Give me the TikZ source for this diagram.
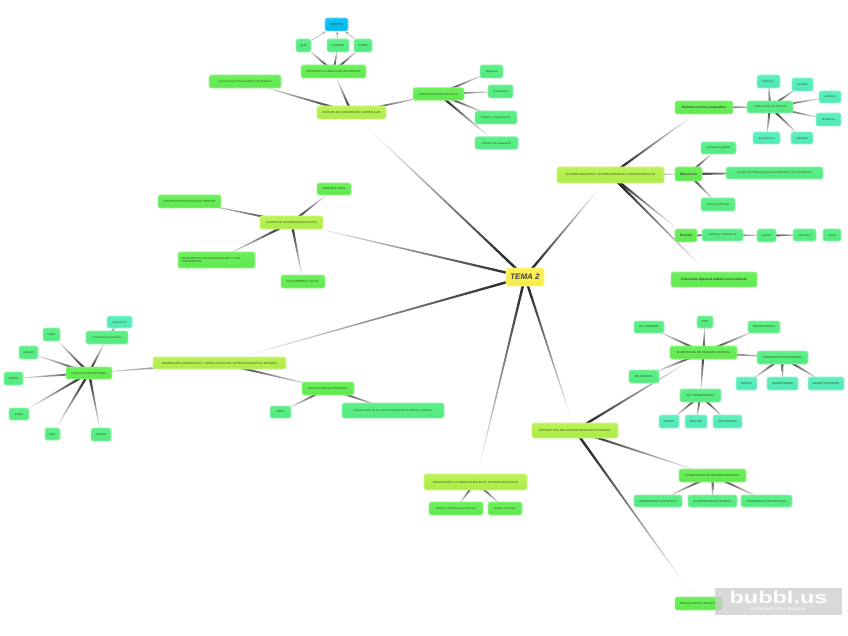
\documentclass[tikz,border=0pt]{standalone}
\usepackage{fontspec}
\setmainfont{Liberation Sans}
\usetikzlibrary{backgrounds,calc}

\definecolor{tinta}{HTML}{2F5A1E}
\tikzset{
  burbuja/.style={rounded corners=2.2pt, inner sep=0pt, line width=0.7pt, text=tinta, align=center,
    font=\fontsize{2.9}{3.5}\selectfont},
  raiz/.style={burbuja, draw={rgb,255:red,255;green,247;blue,154}, top color={rgb,255:red,255;green,242;blue,90}, bottom color={rgb,255:red,242;green,234;blue,74},
    text=black!75, font=\fontsize{8}{9}\selectfont\bfseries\itshape},
  tronco/.style={burbuja, draw={rgb,255:red,210;green,247;blue,140}, top color={rgb,255:red,189;green,242;blue,88}, bottom color={rgb,255:red,171;green,235;blue,72}},
  rama/.style={burbuja, draw={rgb,255:red,160;green,245;blue,144}, top color={rgb,255:red,108;green,240;blue,92}, bottom color={rgb,255:red,96;green,232;blue,80}},
  ramanegra/.style={rama, text=black!75, font=\fontsize{3.3}{4}\selectfont\bfseries},
  hoja/.style={burbuja, draw={rgb,255:red,154;green,245;blue,181}, top color={rgb,255:red,94;green,240;blue,138}, bottom color={rgb,255:red,82;green,234;blue,126}},
  brote/.style={burbuja, draw={rgb,255:red,154;green,245;blue,216}, top color={rgb,255:red,92;green,240;blue,190}, bottom color={rgb,255:red,80;green,232;blue,180}},
  cielo/.style={burbuja, draw={rgb,255:red,112;green,220;blue,252}, top color={rgb,255:red,20;green,196;blue,248}, bottom color={rgb,255:red,0;green,180;blue,240}},
  flecha/.style={draw=black!35, line width=0.5pt, -stealth, shorten >=0.3pt},
}

\begin{document}
\begin{tikzpicture}[x=1pt,y=-1pt]
\def\rama#1#2{
  \pgfmathanglebetweenpoints{\pgfpointanchor{#1}{center}}{\pgfpointanchor{#2}{center}}
  \let\angulo\pgfmathresult
  \pgfmathsetmacro\giro{\angulo-90}
  \path[bottom color=black!82, middle color=black!68, top color=black!3, shading angle=\giro]
    ($(#1)+(\angulo+90:1.3pt)$) -- ($(#2)+(\angulo+90:0.3pt)$) -- ($(#2)+(\angulo-90:0.3pt)$) -- ($(#1)+(\angulo-90:1.3pt)$) -- cycle;
}

\useasboundingbox (0,0) rectangle (848,636);

\node[raiz, minimum width=38pt, minimum height=18pt] (tema) at (525,277) {TEMA 2};


\node[tronco, minimum width=69pt, minimum height=13pt] (niveles) at (351.5,112.5) {NIVELES DE CONCRECIÓN CURRICULAR};
\node[rama, minimum width=65pt, minimum height=13pt] (proyecto) at (333.5,71.5) {PROYECTO CURRICULAR DE CENTRO};
\node[cielo, minimum width=23pt, minimum height=13pt] (equipos) at (336.5,24.5) {EQUIPOS};
\node[hoja, minimum width=15pt, minimum height=13pt] (que) at (303.5,45.5) {QUÉ};
\node[hoja, minimum width=22pt, minimum height=13pt] (cuando) at (338,45.5) {CUÁNDO};
\node[hoja, minimum width=18pt, minimum height=13pt] (como) at (363,45.5) {CÓMO};
\node[rama, minimum width=72pt, minimum height=13pt] (curriculo) at (245,81.5) {Currículo de Primaria, ESO y Bachillerato};
\node[rama, minimum width=51pt, minimum height=12.5pt] (programacion) at (438.5,94) {PROGRAMACIÓN DEL AULA};
\node[hoja, minimum width=23pt, minimum height=13pt] (objetivos) at (491.5,71.5) {Objetivos};
\node[hoja, minimum width=25pt, minimum height=13pt] (contenidos) at (500.5,91.5) {Contenidos};
\node[hoja, minimum width=42pt, minimum height=13pt] (diseno) at (496,117.5) {Diseño y organización};
\node[hoja, minimum width=43pt, minimum height=12.5pt] (criterios) at (496.5,143) {Criterios de evaluación};


\node[tronco, minimum width=107pt, minimum height=16pt] (sistema) at (610.5,175) {SISTEMA EDUCATIVO, SISTEMA ESCOLAR Y CENTRO ESCOLAR};
\node[ramanegra, minimum width=58pt, minimum height=13pt] (escolar) at (704,107.5) {Sistema escolar y educativo};
\node[hoja, minimum width=46pt, minimum height=12pt] (condicionado) at (770,107) {condicionado por factores};
\node[brote, minimum width=23pt, minimum height=13pt] (historicos) at (768.5,81.5) {históricos};
\node[brote, minimum width=21pt, minimum height=13pt] (sociales) at (802.5,84.5) {sociales};
\node[brote, minimum width=22pt, minimum height=12pt] (politicos) at (830,97) {políticos};
\node[brote, minimum width=25pt, minimum height=13pt] (filosoficos) at (828.5,119.5) {filosóficos};
\node[brote, minimum width=27pt, minimum height=12pt] (economicos) at (766.5,138) {económicos};
\node[brote, minimum width=22pt, minimum height=12pt] (culturales) at (802,138) {culturales};
\node[hoja, minimum width=35pt, minimum height=12pt] (perspectiva) at (718.5,148) {perspectiva global};
\node[ramanegra, minimum width=27pt, minimum height=14pt] (educacion) at (688.5,174) {Educación};
\node[hoja, minimum width=97pt, minimum height=12pt] (proceso) at (774.5,173) {proceso de influencias para el desarrollo y la socialización};
\node[hoja, minimum width=34pt, minimum height=13pt] (formal) at (718,204.5) {formal e informal};
\node[ramanegra, minimum width=22pt, minimum height=13pt] (escuela) at (686,235.5) {Escuela};
\node[hoja, minimum width=41pt, minimum height=12pt] (subsistema) at (722.5,235) {sistema y subsistema};
\node[hoja, minimum width=19pt, minimum height=13pt] (nivescolar) at (766.5,235.5) {escolar};
\node[hoja, minimum width=23pt, minimum height=12pt] (educativo) at (804.5,235) {educativo};
\node[hoja, minimum width=18pt, minimum height=12pt] (social) at (832,235) {social};
\node[ramanegra, minimum width=86pt, minimum height=15pt] (ligada) at (714,279.5) {Educación ligada al ámbito socio-cultural};


\node[tronco, minimum width=63pt, minimum height=13pt] (planes) at (291.5,222.5) {PLANES DE CENTROS EDUCATIVOS};
\node[rama, minimum width=34pt, minimum height=12pt] (memoria) at (334,189) {MEMORIA FINAL};
\node[rama, minimum width=63pt, minimum height=13pt] (pec) at (189.5,201.5) {PROYECTO EDUCATIVO DE CENTRO};
\node[rama, minimum width=77pt, minimum height=16pt, text width=70pt, align=left] (reglamento) at (216.5,260) {REGLAMENTO DE ORGANIZACIÓN Y FUNCIONAMIENTO};
\node[rama, minimum width=44pt, minimum height=13pt] (pga) at (303,281.5) {PLAN GENERAL ANUAL};


\node[tronco, minimum width=133pt, minimum height=12pt] (referentes) at (219.5,363) {REFERENTES NORMATIVOS Y LEGISLATIVOS DEL SISTEMA EDUCATIVO ESPAÑOL};
\node[rama, minimum width=46pt, minimum height=12pt] (nacional) at (89,373) {LEGISLACIÓN NACIONAL};
\node[hoja, minimum width=42pt, minimum height=13pt] (constitucion) at (107,337.5) {Constitución española};
\node[brote, minimum width=25pt, minimum height=12pt] (articulo) at (119.5,322) {Artículo 27};
\node[hoja, minimum width=17pt, minimum height=13pt] (lode) at (51.5,334.5) {LODE};
\node[hoja, minimum width=19pt, minimum height=13pt] (logse) at (28.5,352.5) {LOGSE};
\node[hoja, minimum width=19pt, minimum height=13pt] (lopeg) at (13.5,378.5) {LOPEG};
\node[hoja, minimum width=20pt, minimum height=12pt] (loce) at (19,414) {LOCE};
\node[hoja, minimum width=15pt, minimum height=12pt] (loe) at (52.5,434) {LOE};
\node[hoja, minimum width=20pt, minimum height=13pt] (lomce) at (101,434.5) {LOMCE};
\node[rama, minimum width=52pt, minimum height=13pt] (autonomica) at (328,388.5) {LEGISLACIÓN AUTONÓMICA};
\node[hoja, minimum width=21pt, minimum height=12pt] (leex) at (280.5,412) {LEEX};
\node[hoja, minimum width=102pt, minimum height=15pt] (organizacion) at (393,410.5) {Organización de los centros de Educación Infantil y Primaria};


\node[tronco, minimum width=103pt, minimum height=16pt] (planificacion) at (475.5,482) {LEGISLACIÓN Y PLANIFICACIÓN EN EL SISTEMA EDUCATIVO};
\node[rama, minimum width=54pt, minimum height=13pt] (metas) at (456,508.5) {Metas y objetivos que alcanzar};
\node[rama, minimum width=34pt, minimum height=13pt] (curricular) at (505,508.5) {Diseño curricular};


\node[tronco, minimum width=86pt, minimum height=15pt] (estructura) at (575,430.5) {ESTRUCTURA DEL SISTEMA EDUCATIVO ESPAÑOL};
\node[rama, minimum width=67pt, minimum height=13pt] (general) at (703.5,352.5) {ENSEÑANZAS DE RÉGIMEN GENERAL};
\node[hoja, minimum width=30pt, minimum height=12pt] (primaria) at (649,327) {ED. PRIMARIA};
\node[hoja, minimum width=16pt, minimum height=12pt] (eso) at (705,322) {ESO};
\node[hoja, minimum width=32pt, minimum height=12pt] (bachillerato) at (764,327) {BACHILLERATO};
\node[hoja, minimum width=51pt, minimum height=13pt] (formacion) at (782.5,357.5) {FORMACIÓN PROFESIONAL};
\node[hoja, minimum width=30pt, minimum height=13pt] (infantil) at (644,376.5) {ED. INFANTIL};
\node[hoja, minimum width=41pt, minimum height=13pt] (universitaria) at (700.5,395.5) {ED. UNIVERSITARIA};
\node[brote, minimum width=21pt, minimum height=13pt] (basica) at (746.5,383.5) {BÁSICA};
\node[brote, minimum width=31pt, minimum height=13pt] (medio) at (782.5,383.5) {GRADO MEDIO};
\node[brote, minimum width=36pt, minimum height=13pt] (superior) at (826,383.5) {GRADO SUPERIOR};
\node[brote, minimum width=20pt, minimum height=13pt] (grado) at (669,421.5) {GRADO};
\node[brote, minimum width=22pt, minimum height=13pt] (master) at (696,421.5) {MÁSTER};
\node[brote, minimum width=29pt, minimum height=13pt] (doctorado) at (727.5,421.5) {DOCTORADO};
\node[rama, minimum width=67pt, minimum height=13pt] (especial) at (712.5,475.5) {ENSEÑANZAS DE RÉGIMEN ESPECIAL};
\node[hoja, minimum width=48pt, minimum height=12pt] (artisticas) at (658,501) {ENSEÑANZAS ARTÍSTICAS};
\node[hoja, minimum width=49pt, minimum height=12pt] (idiomas) at (712.5,501) {ENSEÑANZAS DE IDIOMAS};
\node[hoja, minimum width=51pt, minimum height=12pt] (deportivas) at (766.5,501) {ENSEÑANZAS DEPORTIVAS};
\node[rama, minimum width=47pt, minimum height=13pt] (adultos) at (698.5,603.5) {EDUCACIÓN DE ADULTOS};


\draw[flecha] (que) -- (equipos);
\draw[flecha] (cuando) -- (equipos);
\draw[flecha] (como) -- (equipos);


\begin{scope}[on background layer]
\foreach \hijo in {niveles,sistema,planes,referentes,planificacion,estructura} {\rama{tema}{\hijo}}

\foreach \hijo in {proyecto,curriculo,programacion} {\rama{niveles}{\hijo}}
\foreach \hijo in {que,cuando,como} {\rama{proyecto}{\hijo}}
\foreach \hijo in {objetivos,contenidos,diseno,criterios} {\rama{programacion}{\hijo}}

\foreach \hijo in {escolar,educacion,escuela,ligada} {\rama{sistema}{\hijo}}
\rama{escolar}{condicionado}
\foreach \hijo in {historicos,sociales,politicos,filosoficos,economicos,culturales} {\rama{condicionado}{\hijo}}
\foreach \hijo in {perspectiva,proceso,formal} {\rama{educacion}{\hijo}}
\rama{escuela}{subsistema}
\rama{subsistema}{nivescolar}
\rama{nivescolar}{educativo}

\foreach \hijo in {memoria,pec,reglamento,pga} {\rama{planes}{\hijo}}

\foreach \hijo in {nacional,autonomica} {\rama{referentes}{\hijo}}
\foreach \hijo in {constitucion,lode,logse,lopeg,loce,loe,lomce} {\rama{nacional}{\hijo}}
\rama{constitucion}{articulo}
\foreach \hijo in {leex,organizacion} {\rama{autonomica}{\hijo}}

\foreach \hijo in {metas,curricular} {\rama{planificacion}{\hijo}}

\foreach \hijo in {general,especial,adultos} {\rama{estructura}{\hijo}}
\foreach \hijo in {primaria,eso,bachillerato,formacion,infantil,universitaria} {\rama{general}{\hijo}}
\foreach \hijo in {basica,medio,superior} {\rama{formacion}{\hijo}}
\foreach \hijo in {grado,master,doctorado} {\rama{universitaria}{\hijo}}
\foreach \hijo in {artisticas,idiomas,deportivas} {\rama{especial}{\hijo}}
\end{scope}


\node[fill=black!20, opacity=0.75, minimum width=127pt, minimum height=27pt, inner sep=0pt] (marca) at (778.5,601.5) {};
\node[text=white, inner sep=0pt, font=\fontsize{17}{17}\selectfont\bfseries] (bubbl) at (778.5,597) {\scalebox{1.38}[1]{bubbl.us}};
\node[text=white, inner sep=0pt, font=\fontsize{4.5}{5}\selectfont] (creado) at (778,609.5) {created with https://bubbl.us};

\end{tikzpicture}
\end{document}
